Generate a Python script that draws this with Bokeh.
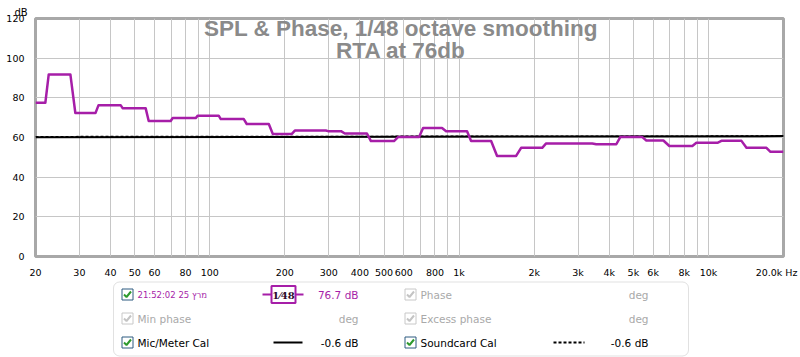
from bokeh.plotting import figure
from bokeh.models import Range1d, FixedTicker, BoxAnnotation, Title
from bokeh.layouts import column
from bokeh.core.properties import value
from bokeh.embed import file_html
from bokeh.resources import INLINE

# ---------------- data ----------------
x_ticks = [20, 30, 40, 50, 60, 80, 100, 200, 300, 400, 500, 600, 800,
           1000, 2000, 3000, 4000, 5000, 6000, 8000, 10000, 20000]
x_tick_labels = ["20", "30", "40", "50", "60", "80", "100", "200", "300", "400", "500", "600", "800",
                 "1k", "2k", "3k", "4k", "5k", "6k", "8k", "10k", "20.0k Hz\u00a0"]
x_grid = [30, 40, 50, 60, 70, 80, 90, 100, 200, 300, 400, 500, 600, 700, 800, 900,
          1000, 2000, 3000, 4000, 5000, 6000, 7000, 8000, 9000, 10000]
y_ticks = [0, 20, 40, 60, 80, 100, 120]

# SPL trace (1/48 octave smoothed RTA), step edges in Hz and level in dB
spl_freq = [20, 21.9, 22.6, 27.6, 28.9, 34.8, 35.8, 43.9, 44.7, 55.3,
            56.9, 69.7, 71.0, 87.8, 89.5, 108.6, 110.7, 136.9, 140.7, 172.5,
            179, 213.4, 219.4, 292, 298, 336, 348, 427, 443, 548,
            569, 691, 717, 854, 887, 1076, 1117, 1344, 1420, 1693,
            1773, 2154, 2234, 3420, 3548, 4270, 4430, 5430, 5636, 6596,
            6970, 8620, 8946, 10864, 11272, 13566, 14208, 17088, 17734, 20000]
spl_db = [77.5, 77.5, 91.8, 91.8, 72.3, 72.3, 76.3, 76.3, 74.8, 74.8,
          68.3, 68.3, 69.8, 69.8, 71.0, 71.0, 69.3, 69.3, 66.8, 66.8,
          61.8, 61.8, 63.5, 63.5, 63.2, 63.2, 62.0, 62.0, 58.2, 58.2,
          60.2, 60.2, 64.8, 64.8, 63.2, 63.2, 58.2, 58.2, 50.7, 50.7,
          54.8, 54.8, 57.0, 57.0, 56.6, 56.6, 60.2, 60.2, 58.5, 58.5,
          55.7, 55.7, 57.3, 57.3, 58.3, 58.3, 54.8, 54.8, 52.8, 52.8]

mic_freq = [20, 200, 2000, 20000]
mic_db = [60.1, 60.3, 60.5, 60.7]
card_freq = [20, 200, 2000, 20000]
card_db = [60.5, 60.6, 60.7, 60.8]

title_lines = ["SPL & Phase, 1/48 octave smoothing", "RTA at 76db"]

# ---------------- main plot ----------------
FONT = "DejaVu Sans"
PURPLE = "#a61ea8"
GRID = "#c6c6c6"

p = figure(width=800, height=280, x_axis_type="log",
           x_range=Range1d(20, 20000), y_range=Range1d(0, 120),
           output_backend="svg", toolbar_location=None,
           min_border_left=35, min_border_right=17, min_border_top=18, min_border_bottom=22)
p.background_fill_color = "white"
p.border_fill_color = "white"
p.outline_line_color = "#a8a8a8"
p.outline_line_width = 3

# unit label "dB" above the y axis
p.title = Title(text="dB", align="left", offset=-21, standoff=1,
                text_font=FONT, text_font_size="10px", text_font_style="normal",
                text_color="#000000")

p.xaxis.ticker = FixedTicker(ticks=x_ticks, minor_ticks=x_grid)
p.xaxis.major_label_overrides = {t: l for t, l in zip(x_ticks, x_tick_labels)}
p.yaxis.ticker = FixedTicker(ticks=y_ticks, minor_ticks=[])
for ax in (p.xaxis, p.yaxis):
    ax.axis_line_color = None
    ax.major_tick_line_color = None
    ax.minor_tick_line_color = None
    ax.major_label_text_font = FONT
    ax.major_label_text_font_size = "9.5px"
    ax.major_label_text_color = "#000000"
p.xaxis.major_label_standoff = 4
p.yaxis.major_label_standoff = 5

p.xgrid.grid_line_color = None
p.xgrid.minor_grid_line_color = GRID
p.xgrid.minor_grid_line_width = 1
p.ygrid.grid_line_color = GRID
p.ygrid.grid_line_width = 1

# title drawn inside the plot area
p.text(x=[584.0, 584.0], y=[115.0, 104.0], text=title_lines,
       text_font=value("Liberation Sans"), text_font_size="22.5px", text_font_style="bold",
       text_color="#8a8a8a", text_align="center", text_baseline="alphabetic")

p.line(card_freq, card_db, line_color="#000000", line_width=1.2, line_dash="3 2")
p.line(mic_freq, mic_db, line_color="#000000", line_width=2)
p.line(spl_freq, spl_db, line_color=PURPLE, line_width=2.5, line_join="round")

# ---------------- legend panel ----------------
leg = figure(width=800, height=77, x_range=Range1d(35, 783), y_range=Range1d(357, 280),
             output_backend="svg", toolbar_location=None,
             min_border=0, min_border_left=35, min_border_right=17,
             min_border_top=0, min_border_bottom=0)
leg.axis.visible = False
leg.grid.visible = False
leg.outline_line_color = None
leg.background_fill_color = "white"
leg.border_fill_color = "white"

leg.add_layout(BoxAnnotation(left=113, right=688, top=281.5, bottom=355.5, fill_color=None,
                             line_color="#9a9a9a", line_width=1, border_radius=6))

row_y = [294, 318, 342]
col_x = [127, 410]
enabled = [[True, False], [False, False], [True, True]]
ON_BOX, OFF_BOX = "#2c5a80", "#c8c8c8"
ON_CHECK, OFF_CHECK = "#2e9a2e", "#c4c4c4"
for r, cy in enumerate(row_y):
    for c, cx in enumerate(col_x):
        on = enabled[r][c]
        leg.rect(x=[cx], y=[cy], width=11, height=11, fill_color="white",
                 line_color=ON_BOX if on else OFF_BOX, line_width=1)
        leg.line(x=[cx - 3.5, cx - 1, cx + 3.5], y=[cy, cy + 2.5, cy - 3],
                 line_color=ON_CHECK if on else OFF_CHECK, line_width=2)

GREY = "#a9a9a9"
names = ["21:52:02 25 מרץ", "Min phase", "Mic/Meter Cal", "Phase", "Excess phase", "Soundcard Cal"]
name_x = [137, 137, 137, 420, 420, 420]
name_y = row_y + row_y
name_col = [PURPLE, GREY, "#000000", GREY, GREY, "#000000"]
name_size = ["8.5px", "10.5px", "10.5px", "10.5px", "10.5px", "10.5px"]
for t, x, y, col, fs in zip(names, name_x, name_y, name_col, name_size):
    leg.text(x=[x], y=[y], text=[t], text_font=value(FONT), text_font_size=fs,
             text_color=col, text_align="left", text_baseline="middle")

vals = ["76.7 dB", "deg", "-0.6 dB", "deg", "deg", "-0.6 dB"]
val_x = [358, 358, 358, 648, 648, 648]
val_col = [PURPLE, GREY, "#000000", GREY, GREY, "#000000"]
for t, x, y, col in zip(vals, val_x, name_y, val_col):
    leg.text(x=[x], y=[y], text=[t], text_font=value(FONT), text_font_size="10.5px",
             text_color=col, text_align="right", text_baseline="middle")

# line samples
leg.line(x=[262, 303], y=[294, 294], line_color=PURPLE, line_width=2)
leg.rect(x=[283], y=[294], width=24, height=17, fill_color="white",
         line_color=PURPLE, line_width=2)
leg.text(x=[283], y=[294.5], text=["1⁄48"], text_font=value("DejaVu Serif"),
         text_font_size="10px", text_font_style="bold", text_color="#2a0a2a",
         text_align="center", text_baseline="middle")
leg.line(x=[273, 302], y=[342, 342], line_color="#000000", line_width=2)
leg.line(x=[553, 584], y=[342, 342], line_color="#000000", line_width=2, line_dash="3 2")

layout = column(p, leg, spacing=0)
open("out.html", "w").write(file_html(layout, INLINE))
